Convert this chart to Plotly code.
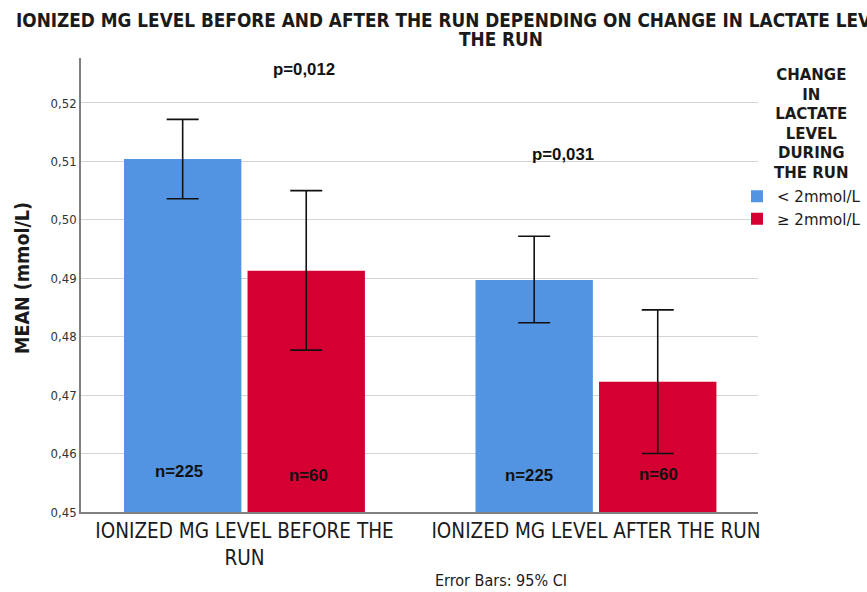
import plotly.graph_objects as go

categories = ["IONIZED MG LEVEL BEFORE THE<br>RUN", "IONIZED MG LEVEL AFTER THE RUN"]
series_names = ["< 2mmol/L", "≥ 2mmol/L"]
mean_low = [0.5104, 0.4897]
ci_upper_low = [0.5172, 0.4972]
ci_lower_low = [0.5036, 0.4824]
mean_high = [0.4913, 0.4723]
ci_upper_high = [0.5050, 0.4846]
ci_lower_high = [0.4777, 0.4600]
n_low = ["n=225", "n=225"]
n_high = ["n=60", "n=60"]
p_values = ["p=0,012", "p=0,031"]
title_lines = ["IONIZED MG LEVEL BEFORE AND AFTER THE RUN DEPENDING ON CHANGE IN LACTATE LEVEL DURING", "THE RUN"]
legend_title = "CHANGE<br>IN<br>LACTATE<br>LEVEL<br>DURING<br>THE RUN"
y_title = "MEAN (mmol/L)"

BLUE = "#5294e2"
RED = "#d50032"
TXT = "#1a1a1a"
COND = "DejaVu Sans Condensed, DejaVu Sans, sans-serif"
SANS = "DejaVu Sans, sans-serif"

W, H = 867, 592
L, R, T, B = 81, 758, 58, 512
def fx(x):
    return (x - L) / (R - L)
def fy(y):
    return 1 - (y - T) / (B - T)

def err(means, up, lo):
    return dict(type="data", symmetric=False,
                array=[u - m for u, m in zip(up, means)],
                arrayminus=[m - l for l, m in zip(lo, means)],
                color="#111111", thickness=1.6, width=16)

fig = go.Figure()
fig.add_trace(go.Bar(x=categories, y=mean_low, name=series_names[0],
                     marker=dict(color=BLUE, line=dict(width=0)),
                     error_y=err(mean_low, ci_upper_low, ci_lower_low)))
fig.add_trace(go.Bar(x=categories, y=mean_high, name=series_names[1],
                     marker=dict(color=RED, line=dict(width=0)),
                     error_y=err(mean_high, ci_upper_high, ci_lower_high)))

ann = []
nfont = dict(family="Liberation Sans, Arial, sans-serif", size=16.8, color="#111111")
ann.append(dict(x=categories[0], y=0.4570, text=f"<b>{n_low[0]}</b>", showarrow=False, xshift=-65, font=nfont))
ann.append(dict(x=categories[0], y=0.4563, text=f"<b>{n_high[0]}</b>", showarrow=False, xshift=64, font=nfont))
ann.append(dict(x=categories[1], y=0.4563, text=f"<b>{n_low[1]}</b>", showarrow=False, xshift=-67, font=nfont))
ann.append(dict(x=categories[1], y=0.4565, text=f"<b>{n_high[1]}</b>", showarrow=False, xshift=63, font=nfont))
ann.append(dict(x=categories[0], y=0.5257, text=f"<b>{p_values[0]}</b>", showarrow=False, xshift=60, font=nfont))
ann.append(dict(x=categories[1], y=0.5112, text=f"<b>{p_values[1]}</b>", showarrow=False, xshift=-33, font=nfont))

tfont = dict(family=COND, size=18.8, color=TXT)
ann.append(dict(xref="paper", yref="paper", x=fx(14), y=fy(21), xanchor="left", yanchor="middle",
                text=f"<b>{title_lines[0]}</b>", showarrow=False, font=tfont))
ann.append(dict(xref="paper", yref="paper", x=fx(501), y=fy(40), xanchor="center", yanchor="middle",
                text=f"<b>{title_lines[1]}</b>", showarrow=False, font=tfont))

ann.append(dict(xref="paper", yref="paper", x=fx(811), y=fy(64), xanchor="center", yanchor="top",
                align="center", text=f"<b>{legend_title}</b>", showarrow=False,
                font=dict(family=SANS, size=15, color=TXT)))

ann.append(dict(xref="paper", yref="paper", x=fx(501), y=fy(580), xanchor="center", yanchor="middle",
                text="Error Bars: 95% CI", showarrow=False,
                font=dict(family=COND, size=16, color=TXT)))

ann.append(dict(xref="paper", yref="paper", x=fx(22), y=fy(278), xanchor="center", yanchor="middle",
                textangle=-90, text=f"<b>{y_title}</b>", showarrow=False,
                font=dict(family=COND, size=19.5, color=TXT)))

fig.update_layout(
    width=W, height=H,
    margin=dict(l=L, r=W - R, t=T, b=H - B, autoexpand=False),
    paper_bgcolor="white", plot_bgcolor="white",
    separators=",.",
    barmode="group", bargap=0.297, bargroupgap=0.05,
    showlegend=True,
    legend=dict(x=fx(737), xanchor="left", y=fy(180), yanchor="top",
                font=dict(family=SANS, size=15, color=TXT),
                bgcolor="rgba(0,0,0,0)", itemwidth=30, tracegroupgap=0),
    annotations=ann,
    xaxis=dict(range=[-0.465, 1.461], showline=True, linecolor="#808080", linewidth=1.5,
               showgrid=False, ticks="", automargin=False,
               tickfont=dict(family=COND, size=20.5, color=TXT)),
    yaxis=dict(range=[0.45, 0.5277], dtick=0.01, tick0=0.45, tickformat=".2f",
               showline=True, linecolor="#808080", linewidth=1.5,
               showgrid=True, gridcolor="#d4d4d4", gridwidth=1.2,
               zeroline=False, ticks="", automargin=False,
               tickfont=dict(family=COND, size=13, color="#333333")),
)

fig.write_html("out.html")
